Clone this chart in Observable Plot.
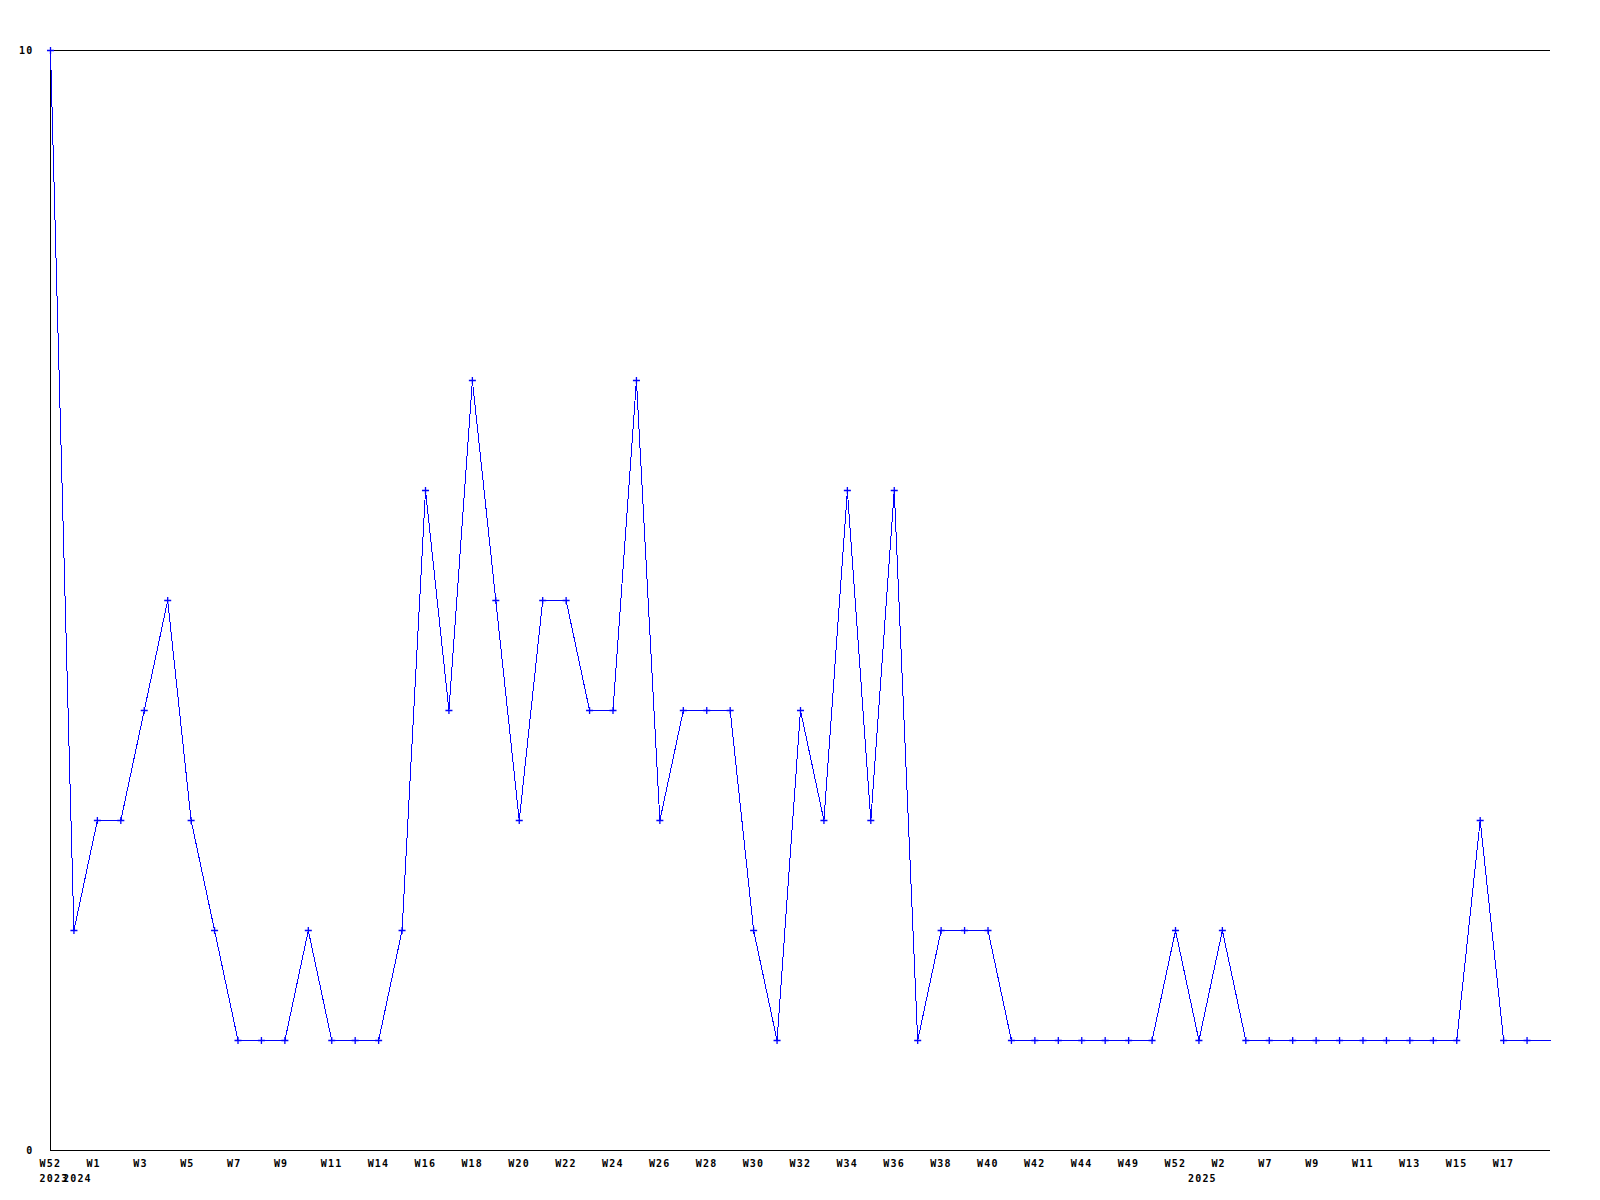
<!DOCTYPE html>
<html>
<head>
<meta charset="utf-8">
<script src="https://cdn.jsdelivr.net/npm/d3@7"></script>
<script src="https://cdn.jsdelivr.net/npm/@observablehq/plot@0.6"></script>
<style>
  html, body { margin: 0; padding: 0; background: #fff; }
  svg text { font-family: "DejaVu Sans Mono", monospace; font-weight: bold; letter-spacing: 1.2px; }
</style>
</head>
<body>
<div id="chart"></div>
<script>
// Weekly values, one per category position (last value only continues the line to the edge)
const values = [10, 2, 3, 3, 4, 5, 3, 2, 1, 1, 1, 2, 1, 1, 1, 2, 6, 4, 7, 5, 3, 5, 5, 4, 4, 7, 3, 4, 4, 4, 2, 1, 4, 3, 6, 3, 6, 1, 2, 2, 2, 1, 1, 1, 1, 1, 1, 1, 2, 1, 2, 1, 1, 1, 1, 1, 1, 1, 1, 1, 1, 3, 1, 1, 1];
// Week tick labels, shown on every second position
const weekLabels = ["W52", "W1", "W3", "W5", "W7", "W9", "W11", "W14", "W16", "W18", "W20", "W22", "W24", "W26", "W28", "W30", "W32", "W34", "W36", "W38", "W40", "W42", "W44", "W49", "W52", "W2", "W7", "W9", "W11", "W13", "W15", "W17"];
// Year labels and the positions where they appear
const yearLabels = ["2023", "2024", "2025"];
const yearPositions = [0, 1, 49];
const yTicks = [0, 10];

const data = values.map((v, i) => ({i, v}));
const weekTicks = weekLabels.map((_, k) => k * 2);
const weekMap = new Map(weekTicks.map((t, k) => [t, weekLabels[k]]));
const yearMap = new Map(yearPositions.map((p, k) => [p, yearLabels[k]]));
const nPos = values.length - 1;

const chart = Plot.plot({
  width: 1600,
  height: 1200,
  marginLeft: 50,
  marginRight: 50,
  marginTop: 50,
  marginBottom: 50,
  style: {fontSize: "10px", background: "#fff", color: "#000"},
  x: {domain: [0, nPos], axis: null, label: null},
  y: {domain: [0, 10], axis: null, label: null},
  marks: [
    Plot.ruleY([10], {stroke: "#000", strokeWidth: 1, shapeRendering: "crispEdges"}),
    Plot.ruleY([0], {stroke: "#000", strokeWidth: 1, shapeRendering: "crispEdges"}),
    Plot.ruleX([0], {stroke: "#000", strokeWidth: 1, shapeRendering: "crispEdges"}),
    Plot.axisY({ticks: yTicks, tickSize: 0, tickPadding: 17, label: null, tickFormat: d => String(d), fill: "#000"}),
    Plot.axisX({ticks: weekTicks, tickSize: 0, tickPadding: 9, label: null, textAnchor: "start", dx: -11, tickFormat: d => weekMap.get(d), fill: "#000"}),
    Plot.axisX({ticks: yearPositions, tickSize: 0, tickPadding: 24, label: null, textAnchor: "start", dx: -11, tickFormat: d => yearMap.get(d), fill: "#000"}),
    Plot.line(data, {x: "i", y: "v", stroke: "#0000ff", strokeWidth: 1, shapeRendering: "crispEdges"}),
    Plot.dot(data.slice(0, nPos), {x: "i", y: "v", symbol: "plus", r: 2.4, fill: "#0000ff", stroke: "#0000ff", strokeWidth: 1.3})
  ]
});
document.getElementById("chart").appendChild(chart);
</script>
</body>
</html>
